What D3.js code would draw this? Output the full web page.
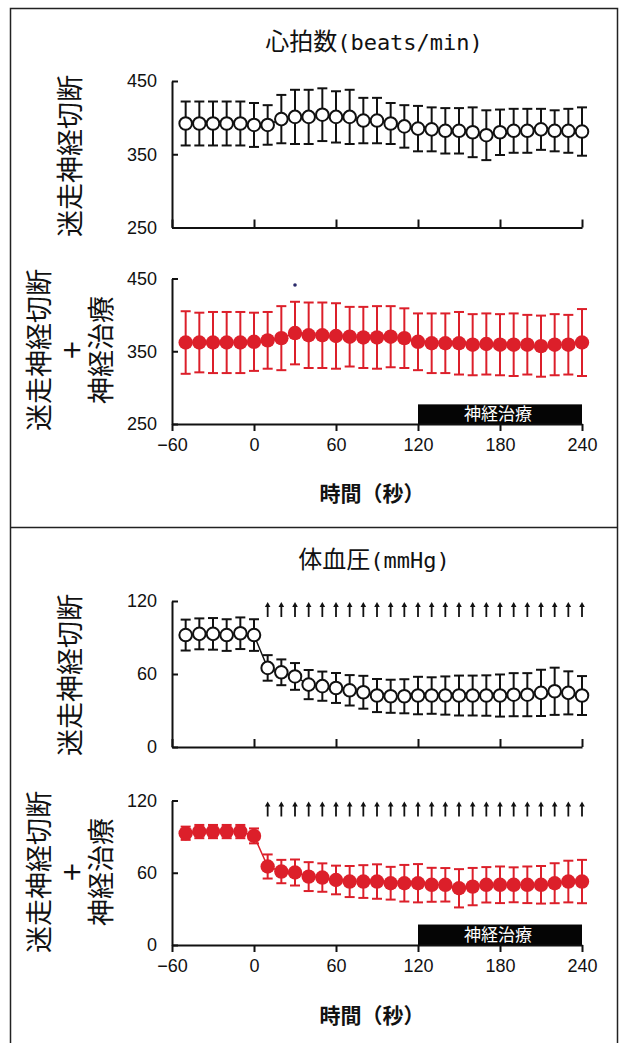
<!DOCTYPE html>
<html>
<head>
<meta charset="utf-8">
<script src="https://cdn.jsdelivr.net/npm/d3@7"></script>
<style>
  body { margin: 0; background: #fff; }
  svg { display: block; }
</style>
</head>
<body>
<script>
// time points (s)
const times = [-50, -40, -30, -20, -10, 0, 10, 20, 30, 40, 50, 60, 70, 80, 90, 100,
  110, 120, 130, 140, 150, 160, 170, 180, 190, 200, 210, 220, 230, 240];
const xTicks = [-60, 0, 60, 120, 180, 240];
const hrTicks = [250, 350, 450];
const bpTicks = [0, 60, 120];

// heart rate, vagotomy
const hrVagMean = [392, 392, 392, 392, 392, 390, 390, 398, 401, 401, 404, 401, 401, 396, 396,
  392, 388, 385, 384, 382, 382, 380, 376, 380, 382, 382, 384, 382, 382, 381];
const hrVagErr = [30, 30, 30, 30, 30, 30, 27, 33, 37, 37, 36, 35, 37, 31, 31,
  28, 29, 31, 30, 31, 31, 34, 34, 31, 30, 30, 28, 28, 30, 33];

// heart rate, vagotomy + treatment
const hrTrtMean = [362, 362, 362, 362, 362, 363, 365, 368, 375, 372, 372, 371, 370, 369, 369,
  370, 368, 363, 361, 361, 361, 359, 360, 359, 359, 359, 357, 359, 359, 362];
const hrTrtErr = [43, 41, 42, 42, 42, 40, 39, 44, 43, 45, 45, 45, 41, 42, 43,
  42, 41, 39, 41, 41, 43, 42, 42, 42, 43, 41, 42, 42, 41, 46];

// blood pressure, vagotomy
const bpVagMean = [92, 93, 93, 92, 93.5, 92, 65, 61.4, 58, 51.3, 50, 48.5, 46.6, 45, 42.3,
  41.7, 41.7, 42.3, 42.3, 42.3, 42.3, 42.3, 42.3, 42.3, 43, 43, 44.5, 45.8, 44.5, 42.3];
const bpVagErr = [12.7, 12.7, 13, 13, 13, 13, 10.5, 10.6, 11, 12, 12, 12.3, 12.5, 13.5, 13.6,
  13.6, 14, 15.4, 15, 15.7, 16.4, 16.4, 16.6, 17.3, 17.7, 17.7, 19, 19.4, 17.7, 16];

// blood pressure, vagotomy + treatment
const bpTrtMean = [92.8, 94.2, 94.2, 94.2, 94.2, 90.6, 65.2, 61, 60.2, 56.8, 56, 54, 52.7, 52.7, 52.7,
  51.3, 51.3, 51.3, 50, 50, 47.1, 48.5, 50, 50, 50, 50, 50, 51.3, 52.7, 52.7];
const bpTrtErr = [5.5, 5.5, 5.5, 5.5, 5.5, 6.2, 10, 9.7, 10.8, 12, 11.8, 11.9, 12.9, 13.6, 14.3,
  13.6, 15.2, 15.9, 14.1, 13.9, 15.9, 15.5, 14.7, 15.2, 14.5, 15.2, 15.6, 16.6, 17.3, 18];

// markers above the BP series
const arrowTimes = [10, 20, 30, 40, 50, 60, 70, 80, 90, 100, 110, 120,
  130, 140, 150, 160, 170, 180, 190, 200, 210, 220, 230, 240];

// treatment period
const treatSpan = [120, 240];
const treatLabel = '神経治療';
const hrTreatTop = [277];
const bpTreatTop = [17];

// significance dot in the HR treatment plot
const sigTimes = [30];
const sigValues = [441];

const RED = '#dc1f2a';
const CJK = '"Noto Sans CJK JP", sans-serif';

const width = 621;
const height = 1043;

const svg = d3.select('body')
  .append('svg')
  .attr('width', width)
  .attr('height', height);

// frame
svg.append('path')
  .attr('d', `M10.5,${height + 2} V8.5 H617.5 V${height + 2}`)
  .attr('fill', 'none')
  .attr('stroke', '#222')
  .attr('stroke-width', 1.5);
svg.append('line')
  .attr('x1', 10).attr('x2', 618)
  .attr('y1', 527.5).attr('y2', 527.5)
  .attr('stroke', '#222')
  .attr('stroke-width', 1.5);

const xScale = d3.scaleLinear().domain([-60, 240]).range([172, 582]);

function drawTitle(cjk, latin, y) {
  const t = svg.append('text')
    .attr('x', 374)
    .attr('y', y)
    .attr('text-anchor', 'middle')
    .style('font-size', '24px')
    .attr('fill', '#111');
  t.append('tspan').style('font-family', CJK).text(cjk);
  t.append('tspan').style('font-family', '"DejaVu Sans Mono", monospace').style('font-size', '22px').text(latin);
}

function drawYLabel(lines, cy) {
  lines.forEach(l => {
    svg.append('text')
      .attr('transform', `translate(${l.x},${cy}) rotate(-90)`)
      .attr('text-anchor', 'middle')
      .attr('dy', '0.36em')
      .style('font-family', CJK)
      .style('font-size', l.size || '27px')
      .attr('fill', '#111')
      .text(l.text);
  });
}

function plot(opts) {
  const yScale = d3.scaleLinear().domain(opts.domain).range(opts.range);
  const g = svg.append('g');

  // treatment bar
  if (opts.treatTop) {
    g.append('rect')
      .attr('x', xScale(treatSpan[0]))
      .attr('y', yScale(opts.treatTop[0]))
      .attr('width', xScale(treatSpan[1]) - xScale(treatSpan[0]))
      .attr('height', yScale(opts.domain[0]) - yScale(opts.treatTop[0]))
      .attr('fill', '#050505');
    g.append('text')
      .attr('x', xScale((treatSpan[0] + treatSpan[1]) / 2) - 2)
      .attr('y', (yScale(opts.treatTop[0]) + yScale(opts.domain[0])) / 2)
      .attr('dy', '0.36em')
      .attr('text-anchor', 'middle')
      .style('font-family', CJK)
      .style('font-size', '17px')
      .attr('fill', '#fff')
      .text(treatLabel);
  }

  // axes
  const yAxis = d3.axisLeft(yScale)
    .tickValues(opts.yTicks)
    .tickSizeInner(-6)
    .tickSizeOuter(0)
    .tickPadding(15);
  const ya = g.append('g')
    .attr('transform', `translate(${xScale(-60)},0)`)
    .call(yAxis);

  const xAxis = d3.axisBottom(xScale)
    .tickValues(xTicks)
    .tickSizeOuter(0);
  if (opts.xLabels) {
    xAxis.tickSizeInner(7).tickPadding(7);
  } else {
    xAxis.tickSizeInner(-8).tickFormat('');
  }
  const xa = g.append('g')
    .attr('transform', `translate(0,${yScale(opts.domain[0])})`)
    .call(xAxis);

  [ya, xa].forEach(a => {
    a.select('.domain').attr('stroke', '#111').attr('stroke-width', 2);
    a.selectAll('.tick line').attr('stroke', '#111').attr('stroke-width', 2);
    a.selectAll('.tick text')
      .attr('fill', '#111')
      .style('font-family', '"Liberation Sans", Arial, sans-serif')
      .style('font-size', '18px');
  });

  // arrows
  if (opts.arrows) {
    const top = yScale(opts.domain[1]) + 1;
    const arr = g.selectAll('.arrow')
      .data(arrowTimes)
      .enter()
      .append('g')
      .attr('transform', d => `translate(${xScale(d)},${top})`);
    arr.append('line')
      .attr('y1', 3).attr('y2', 15)
      .attr('stroke', '#111')
      .attr('stroke-width', 1.8);
    arr.append('path')
      .attr('d', 'M0,0 L-2.8,5 L2.8,5 Z')
      .attr('fill', '#111');
  }

  const data = times.map((t, i) => ({ t: t, m: opts.mean[i], e: opts.err[i] }));
  const color = opts.filled ? RED : '#111';

  // connecting line
  g.append('path')
    .datum(data)
    .attr('fill', 'none')
    .attr('stroke', color)
    .attr('stroke-width', 1.5)
    .attr('d', d3.line().x(d => xScale(d.t)).y(d => yScale(d.m)));

  // error bars
  const eb = g.selectAll('.err')
    .data(data)
    .enter()
    .append('g')
    .attr('stroke', color)
    .attr('stroke-width', 2);
  eb.append('line')
    .attr('x1', d => xScale(d.t)).attr('x2', d => xScale(d.t))
    .attr('y1', d => yScale(d.m - d.e)).attr('y2', d => yScale(d.m + d.e));
  eb.append('line')
    .attr('x1', d => xScale(d.t) - 5).attr('x2', d => xScale(d.t) + 5)
    .attr('y1', d => yScale(d.m + d.e)).attr('y2', d => yScale(d.m + d.e));
  eb.append('line')
    .attr('x1', d => xScale(d.t) - 5).attr('x2', d => xScale(d.t) + 5)
    .attr('y1', d => yScale(d.m - d.e)).attr('y2', d => yScale(d.m - d.e));

  // points
  g.selectAll('.pt')
    .data(data)
    .enter()
    .append('circle')
    .attr('cx', d => xScale(d.t))
    .attr('cy', d => yScale(d.m))
    .attr('r', opts.filled ? 7.2 : 6.3)
    .attr('fill', opts.filled ? RED : '#fff')
    .attr('stroke', opts.filled ? 'none' : '#111')
    .attr('stroke-width', 2);

  if (opts.sig) {
    g.selectAll('.sig')
      .data(sigTimes)
      .enter()
      .append('circle')
      .attr('cx', d => xScale(d))
      .attr('cy', (d, i) => yScale(sigValues[i]))
      .attr('r', 1.8)
      .attr('fill', '#2a2a6a');
  }
}

function drawXTitle(y) {
  svg.append('text')
    .attr('x', 372)
    .attr('y', y)
    .attr('dy', '0.36em')
    .attr('text-anchor', 'middle')
    .style('font-family', CJK)
    .style('font-weight', 'bold')
    .style('font-size', '21px')
    .attr('fill', '#111')
    .text('時間（秒）');
}

// ---- heart rate panel
drawTitle('心拍数', '(beats/min)', 50);
drawYLabel([{ text: '迷走神経切断', x: 70 }], 156);
plot({ domain: [250, 450], range: [227.5, 81], yTicks: hrTicks, mean: hrVagMean, err: hrVagErr,
  filled: false, xLabels: false });

drawYLabel([{ text: '迷走神経切断', x: 39 }, { text: '+', x: 72, size: '32px' }, { text: '神経治療', x: 101 }], 350);
plot({ domain: [250, 450], range: [424, 278.5], yTicks: hrTicks, mean: hrTrtMean, err: hrTrtErr,
  filled: true, xLabels: true, treatTop: hrTreatTop, sig: true });
drawXTitle(493);

// ---- blood pressure panel
drawTitle('体血圧', '(mmHg)', 568);
drawYLabel([{ text: '迷走神経切断', x: 70 }], 675);
plot({ domain: [0, 120], range: [747, 601], yTicks: bpTicks, mean: bpVagMean, err: bpVagErr,
  filled: false, xLabels: false, arrows: true });

drawYLabel([{ text: '迷走神経切断', x: 39 }, { text: '+', x: 72, size: '32px' }, { text: '神経治療', x: 101 }], 872);
plot({ domain: [0, 120], range: [945, 800.5], yTicks: bpTicks, mean: bpTrtMean, err: bpTrtErr,
  filled: true, xLabels: true, treatTop: bpTreatTop, arrows: true });
drawXTitle(1015);
</script>
</body>
</html>
